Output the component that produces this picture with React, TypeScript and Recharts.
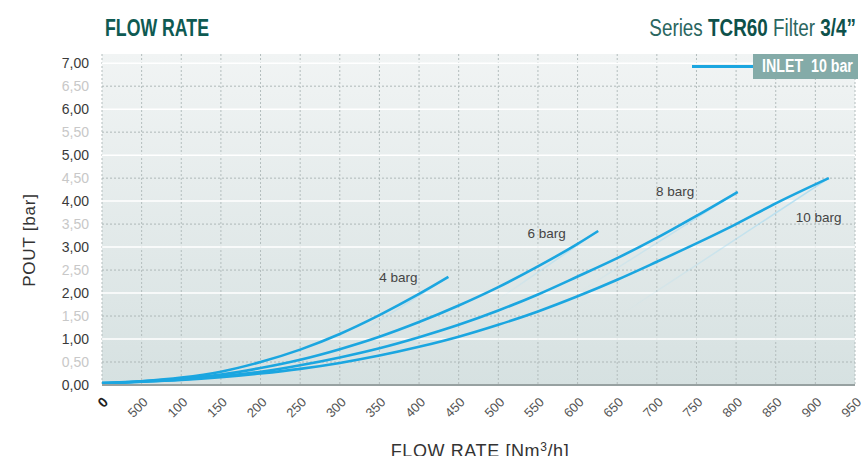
import {
  CartesianGrid,
  Line,
  LineChart,
  ReferenceDot,
  ReferenceLine,
  XAxis,
  YAxis,
} from "recharts";

// flow ticks (Nm3/h) and the labels printed under them (the source prints "500" for 50)
const flowTicks = [0, 50, 100, 150, 200, 250, 300, 350, 400, 450, 500, 550, 600, 650, 700, 750, 800, 850, 900, 950];
const flowTickLabels = ["0", "500", "100", "150", "200", "250", "300", "350", "400", "450", "500", "550", "600", "650", "700", "750", "800", "850", "900", "950"];
const poutTicks = [0, 0.5, 1, 1.5, 2, 2.5, 3, 3.5, 4, 4.5, 5, 5.5, 6, 6.5, 7];

// curves
const flow4 = [0, 50, 100, 150, 200, 250, 300, 350, 400, 437];
const pout4 = [0.03, 0.08, 0.16, 0.29, 0.5, 0.77, 1.11, 1.52, 1.98, 2.35];

const flow6 = [0, 50, 100, 150, 200, 250, 300, 350, 400, 450, 500, 550, 600, 626];
const pout6 = [0.04, 0.08, 0.14, 0.23, 0.37, 0.55, 0.78, 1.05, 1.37, 1.73, 2.13, 2.58, 3.07, 3.35];

const flow8 = [0, 50, 100, 150, 200, 250, 300, 350, 400, 450, 500, 550, 600, 650, 700, 750, 802];
const pout8 = [0.04, 0.07, 0.12, 0.19, 0.29, 0.43, 0.6, 0.8, 1.04, 1.31, 1.62, 1.97, 2.36, 2.76, 3.2, 3.68, 4.2];

const flow10 = [0, 50, 100, 150, 200, 250, 300, 350, 400, 450, 500, 550, 600, 650, 700, 750, 800, 850, 917];
const pout10 = [0.04, 0.07, 0.11, 0.17, 0.25, 0.35, 0.48, 0.64, 0.83, 1.05, 1.31, 1.6, 1.93, 2.29, 2.68, 3.08, 3.5, 3.95, 4.5];

// faint reflections under the upper ends
const ghostFlow4 = [322, 437];
const ghostPout4 = [1.09, 2.35];
const ghostFlow6 = [499, 626];
const ghostPout6 = [1.85, 3.35];
const ghostFlow8 = [600, 802];
const ghostPout8 = [2.0, 4.2];
const ghostFlow10 = [658, 917];
const ghostPout10 = [1.57, 4.5];

const curveLabels = ["4 barg", "6 barg", "8 barg", "10 barg"];
const curveLabelFlow = [374, 561, 723, 904];
const curveLabelPout = [2.35, 3.3, 4.22, 3.65];

const pts = (xs: number[], ys: number[]) => xs.map((x, i) => ({ x, y: ys[i] }));

const series = [pts(flow4, pout4), pts(flow6, pout6), pts(flow8, pout8), pts(flow10, pout10)];
const ghosts = [
  pts(ghostFlow4, ghostPout4),
  pts(ghostFlow6, ghostPout6),
  pts(ghostFlow8, ghostPout8),
  pts(ghostFlow10, ghostPout10),
];

const BLUE = "#1ba6e0";
const SANS = "'Liberation Sans', Arial, sans-serif";

const XTick = (props: any) => {
  const { x, y, payload } = props;
  const i = flowTicks.indexOf(payload.value);
  const label = i >= 0 ? flowTickLabels[i] : String(payload.value);
  const zero = payload.value === 0;
  return (
    <g transform={`translate(${x + 7},${y + 18})`}>
      <text
        textAnchor="end"
        transform="rotate(-45)"
        fontSize={zero ? 14 : 13}
        fontWeight={zero ? 700 : 400}
        fill={zero ? "#222" : "#555"}
        fontFamily={SANS}
      >
        {label}
      </text>
    </g>
  );
};

const YTick = (props: any) => {
  const { x, y, payload } = props;
  const v: number = payload.value;
  const whole = Math.abs(v - Math.round(v)) < 1e-6;
  return (
    <text
      x={x - 13}
      y={y}
      dy="0.36em"
      textAnchor="end"
      fontSize={14}
      fill={whole ? "#3a3a3a" : "#c8c8c8"}
      fontFamily={SANS}
    >
      {v.toFixed(2).replace(".", ",")}
    </text>
  );
};

export default function App() {
  return (
    <div style={{ position: "absolute", left: 0, top: 0, width: 862, height: 456, background: "#fff", overflow: "hidden" }}>
      <svg width={0} height={0} style={{ position: "absolute" }}>
        <defs>
          <linearGradient id="bgGrad" x1="0" y1="0" x2="0" y2="1">
            <stop offset="0%" stopColor="#f1f4f4" />
            <stop offset="100%" stopColor="#d6e1e1" />
          </linearGradient>
          <linearGradient id="ghostGrad" x1="0" y1="0" x2="1" y2="0">
            <stop offset="0%" stopColor="#a9dbf0" stopOpacity={0} />
            <stop offset="100%" stopColor="#a9dbf0" stopOpacity={0.9} />
          </linearGradient>
        </defs>
      </svg>

      <div
        style={{
          position: "absolute",
          left: 105,
          top: 17,
          fontFamily: SANS,
          fontWeight: 700,
          fontSize: 23,
          lineHeight: "23px",
          color: "#0e5a52",
          transform: "scaleX(0.77)",
          transformOrigin: "left top",
          whiteSpace: "nowrap",
        }}
      >
        FLOW RATE
      </div>
      <div
        style={{
          position: "absolute",
          right: 6,
          top: 17,
          fontFamily: SANS,
          fontSize: 23,
          lineHeight: "23px",
          color: "#2b6660",
          whiteSpace: "pre",
          transform: "scaleX(0.82)",
          transformOrigin: "right top",
        }}
      >
        Series <b style={{ color: "#0e514a" }}>TCR60</b> Filter <b style={{ color: "#0e514a" }}>3/4”</b>
      </div>

      <LineChart width={862} height={456} margin={{ top: 54, right: 7, bottom: 0, left: 0 }}>
        <CartesianGrid
          horizontal={false}
          fill="url(#bgGrad)"
          fillOpacity={1}
          stroke="#b3bdbd"
          strokeDasharray="2 2"
        />
        <XAxis
          type="number"
          dataKey="x"
          domain={[0, 950]}
          ticks={flowTicks}
          interval={0}
          height={71}
          tick={<XTick />}
          tickLine={false}
          tickSize={0}
          tickMargin={0}
          axisLine={{ stroke: "#97a1a1", strokeWidth: 2 }}
        />
        <YAxis
          type="number"
          dataKey="y"
          domain={[0, 7.2]}
          ticks={poutTicks}
          interval={0}
          width={102}
          tick={<YTick />}
          tickLine={false}
          tickSize={0}
          tickMargin={0}
          axisLine={false}
        />
        {poutTicks
          .filter((v) => v > 0)
          .map((v) =>
            Number.isInteger(v) ? (
              <ReferenceLine key={v} y={v} stroke="#ffffff" strokeWidth={1.5} />
            ) : (
              <ReferenceLine key={v} y={v} stroke="#aeb8b8" strokeDasharray="2 2" />
            )
          )}
        {ghosts.map((g, i) => (
          <Line
            key={`g${i}`}
            data={g}
            dataKey="y"
            type="linear"
            stroke="url(#ghostGrad)"
            strokeWidth={1.5}
            dot={false}
            activeDot={false}
            isAnimationActive={false}
          />
        ))}
        {series.map((s, i) => (
          <Line
            key={`s${i}`}
            data={s}
            dataKey="y"
            type="monotone"
            stroke={BLUE}
            strokeWidth={2.6}
            dot={false}
            activeDot={false}
            isAnimationActive={false}
          />
        ))}
        {curveLabels.map((t, i) => (
          <ReferenceDot
            key={t}
            x={curveLabelFlow[i]}
            y={curveLabelPout[i]}
            r={0}
            fill="none"
            stroke="none"
            label={{ value: t, position: "center", fill: "#444", fontSize: 13.5, fontFamily: SANS }}
          />
        ))}
      </LineChart>

      <div style={{ position: "absolute", left: 692, top: 65, width: 62, height: 2.5, background: BLUE }} />
      <div
        style={{
          position: "absolute",
          left: 753,
          top: 54,
          width: 105,
          height: 25,
          background: "#84aba8",
        }}
      />
      <div
        style={{
          position: "absolute",
          left: 762,
          top: 54,
          color: "#fff",
          fontFamily: SANS,
          fontWeight: 700,
          fontSize: 18,
          lineHeight: "25px",
          whiteSpace: "pre",
          transform: "scaleX(0.79)",
          transformOrigin: "left top",
        }}
      >
        INLET  10 bar
      </div>

      <div
        style={{
          position: "absolute",
          left: 30,
          top: 240,
          transform: "translate(-50%, -50%) rotate(-90deg)",
          fontFamily: SANS,
          fontSize: 17,
          letterSpacing: 0.8,
          color: "#333",
          whiteSpace: "nowrap",
        }}
      >
        POUT [bar]
      </div>
      <div
        style={{
          position: "absolute",
          left: 480,
          top: 438,
          transform: "translateX(-50%)",
          fontFamily: SANS,
          fontSize: 18,
          lineHeight: "18px",
          letterSpacing: 0.6,
          color: "#333",
          whiteSpace: "nowrap",
        }}
      >
        FLOW RATE [Nm<sup style={{ fontSize: 12, verticalAlign: "6px" }}>3</sup>/h]
      </div>
    </div>
  );
}
